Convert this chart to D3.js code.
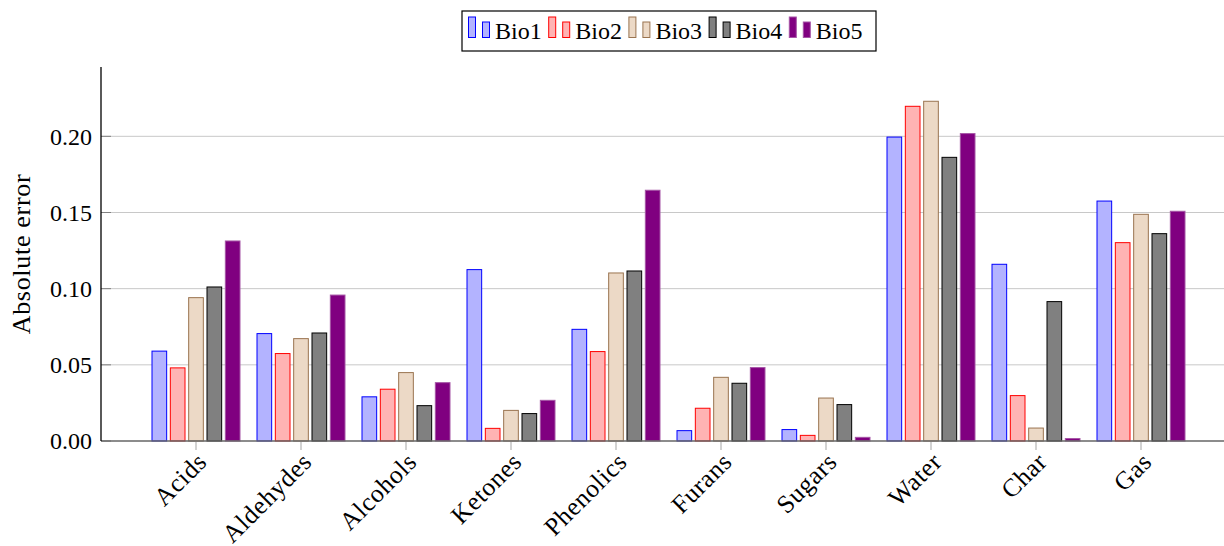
<!DOCTYPE html>
<html>
<head>
<meta charset="utf-8">
<script src="https://cdn.jsdelivr.net/npm/d3@7"></script>
<style>
  body { margin: 0; background: #fff; }
  svg text { font-family: "Liberation Serif", "Times New Roman", serif; fill: #000; }
</style>
</head>
<body>
<svg id="chart"></svg>
<script>
// Absolute error per product class, one series per biomass
const categories = ["Acids", "Aldehydes", "Alcohols", "Ketones", "Phenolics", "Furans", "Sugars", "Water", "Char", "Gas"];
const seriesNames = ["Bio1", "Bio2", "Bio3", "Bio4", "Bio5"];
const bio1 = [0.059, 0.0705, 0.029, 0.1125, 0.0733, 0.0068, 0.0075, 0.1995, 0.116, 0.1575];
const bio2 = [0.048, 0.0574, 0.034, 0.0083, 0.0587, 0.0215, 0.0037, 0.2197, 0.0298, 0.1302];
const bio3 = [0.0941, 0.0672, 0.0449, 0.0201, 0.1103, 0.0418, 0.0282, 0.223, 0.0085, 0.1488];
const bio4 = [0.1011, 0.0709, 0.0232, 0.018, 0.1116, 0.0379, 0.0239, 0.1862, 0.0915, 0.1361];
const bio5 = [0.1313, 0.0958, 0.0383, 0.0267, 0.1646, 0.0482, 0.0024, 0.2018, 0.0016, 0.1508];
const yTicks = [0, 0.05, 0.1, 0.15, 0.2];

const allValues = [bio1, bio2, bio3, bio4, bio5];
const fills = ["#b3b3ff", "#ffb3b3", "#ecd9c6", "#808080", "#800080"];
const strokes = ["#0000ff", "#ff0000", "#9a7450", "#000000", "#a555a5"];

const width = 1224, height = 546;
const margin = { top: 67, right: 0, bottom: 105, left: 101 };

const svg = d3.select("#chart").attr("width", width).attr("height", height);

// scales
const x = d3.scalePoint().domain(categories).range([196, 1141]);
const xSub = d3.scaleBand().domain(seriesNames).range([-44, 44]).paddingInner(0.2);
const y = d3.scaleLinear().domain([0, 0.2455]).range([height - margin.bottom, margin.top]);

// grid lines
svg.append("g")
  .selectAll("line")
  .data(yTicks.slice(1))
  .enter()
  .append("line")
  .attr("x1", margin.left)
  .attr("x2", width)
  .attr("y1", d => y(d))
  .attr("y2", d => y(d))
  .attr("stroke", "#c8c8c8")
  .attr("stroke-width", 1);

// y tick marks (inside) and labels
const yAxis = svg.append("g");
yAxis.selectAll("line")
  .data(yTicks)
  .enter()
  .append("line")
  .attr("x1", margin.left)
  .attr("x2", margin.left + 10)
  .attr("y1", d => y(d))
  .attr("y2", d => y(d))
  .attr("stroke", "#808080")
  .attr("stroke-width", 1);
yAxis.selectAll("text")
  .data(yTicks)
  .enter()
  .append("text")
  .attr("x", margin.left - 9)
  .attr("y", d => y(d))
  .attr("dy", "0.35em")
  .attr("text-anchor", "end")
  .style("font-size", "24px")
  .text(d3.format(".2f"));

// bars
const groups = svg.append("g")
  .selectAll("g")
  .data(seriesNames)
  .enter()
  .append("g");

groups.each(function (name, s) {
  d3.select(this)
    .selectAll("rect")
    .data(allValues[s])
    .enter()
    .append("rect")
    .attr("x", (d, i) => x(categories[i]) + xSub(name))
    .attr("width", xSub.bandwidth())
    .attr("y", d => y(d))
    .attr("height", d => y(0) - y(d))
    .attr("fill", fills[s])
    .attr("stroke", strokes[s])
    .attr("stroke-width", 1);
});

// x axis line and ticks
svg.append("line")
  .attr("x1", margin.left)
  .attr("x2", width)
  .attr("y1", y(0))
  .attr("y2", y(0))
  .attr("stroke", "#666")
  .attr("stroke-width", 1.6);

svg.append("g")
  .selectAll("line")
  .data(categories)
  .enter()
  .append("line")
  .attr("x1", d => x(d))
  .attr("x2", d => x(d))
  .attr("y1", y(0) + 1)
  .attr("y2", y(0) + 9)
  .attr("stroke", "#b4b4b4")
  .attr("stroke-width", 1.2);

svg.append("g")
  .selectAll("text")
  .data(categories)
  .enter()
  .append("text")
  .attr("transform", d => "translate(" + (x(d) + 6) + "," + (y(0) + 16) + ") rotate(-45)")
  .attr("text-anchor", "end")
  .attr("dy", "0.35em")
  .style("font-size", "25.5px")
  .style("letter-spacing", "0.6px")
  .text(d => d);

// y axis line
svg.append("line")
  .attr("x1", margin.left)
  .attr("x2", margin.left)
  .attr("y1", margin.top)
  .attr("y2", y(0))
  .attr("stroke", "#000")
  .attr("stroke-width", 1.3);

// y axis title
svg.append("text")
  .attr("transform", "translate(30," + ((margin.top + y(0)) / 2) + ") rotate(-90)")
  .attr("text-anchor", "middle")
  .style("font-size", "26px")
  .style("letter-spacing", "0.7px")
  .text("Absolute error");

// legend
const legend = svg.append("g").attr("transform", "translate(462,11)");
legend.append("rect")
  .attr("width", 414)
  .attr("height", 40)
  .attr("fill", "#fff")
  .attr("stroke", "#000")
  .attr("stroke-width", 1.2);

const entry = legend.selectAll(".entry")
  .data(seriesNames)
  .enter()
  .append("g")
  .attr("class", "entry")
  .attr("transform", (d, i) => "translate(" + (6.5 + i * 80.2) + ",0)");

entry.append("rect")
  .attr("x", 0)
  .attr("y", 6)
  .attr("width", 7)
  .attr("height", 20.5)
  .attr("fill", (d, i) => fills[i])
  .attr("stroke", (d, i) => strokes[i]);
entry.append("rect")
  .attr("x", 14)
  .attr("y", 11)
  .attr("width", 7)
  .attr("height", 15.5)
  .attr("fill", (d, i) => fills[i])
  .attr("stroke", (d, i) => strokes[i]);
entry.append("text")
  .attr("x", 26.5)
  .attr("y", 27.5)
  .style("font-size", "24px")
  .text(d => d);
</script>
</body>
</html>
